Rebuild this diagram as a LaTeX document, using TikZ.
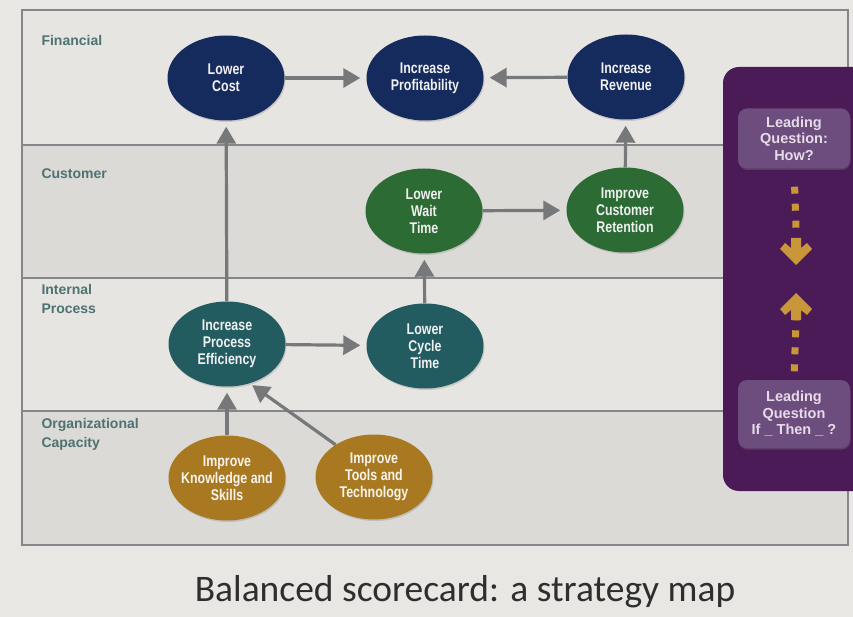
\documentclass[tikz,border=0pt]{standalone}
\usepackage{fontspec}
\setmainfont{Liberation Sans}
\newfontfamily\capfont{Carlito}
\newfontfamily\condfont[FakeStretch=0.8]{Liberation Sans}
\usetikzlibrary{arrows.meta,shadows,shapes.geometric}

\definecolor{pagebg}{HTML}{E8E7E3}
\definecolor{laneA}{HTML}{E6E5E1}
\definecolor{laneB}{HTML}{DBDAD6}
\definecolor{frameline}{HTML}{85868A}
\definecolor{lanetext}{HTML}{4E7272}
\definecolor{navy}{HTML}{152A5D}
\definecolor{leaf}{HTML}{2C6B34}
\definecolor{teal}{HTML}{225C61}
\definecolor{ochre}{HTML}{A97922}
\definecolor{arrowgrey}{HTML}{76787A}
\definecolor{panelbg}{HTML}{4A1B57}
\definecolor{panelbox}{HTML}{6D4C7E}
\definecolor{paneltext}{HTML}{E6DCE8}
\definecolor{dotgold}{HTML}{C9973A}
\definecolor{captext}{HTML}{2E2E2E}

\tikzset{
  goal/.style={ellipse, minimum width=117pt, minimum height=85pt, inner sep=0pt,
    align=center, text=white!94!black,
    font=\condfont\bfseries\fontsize{15.5}{17}\selectfont,
    drop shadow={opacity=0.3, shadow xshift=1pt, shadow yshift=-1.5pt}},
  fin/.style={goal, fill=navy},
  cust/.style={goal, fill=leaf},
  proc/.style={goal, fill=teal},
  org/.style={goal, fill=ochre, text=white!92!ochre},
  flow/.style={draw=arrowgrey, line width=3.2pt,
    -{Triangle[length=17pt, width=19pt]}, shorten >=6pt},
  lanelabel/.style={anchor=base west, align=left, text=lanetext,
    font=\bfseries\fontsize{14}{19}\selectfont},
  question/.style={fill=panelbox, rounded corners=9pt, minimum width=112pt,
    align=center, text=paneltext, inner sep=0pt,
    font=\bfseries\fontsize{14.5}{16.5}\selectfont,
    drop shadow={opacity=0.35, shadow xshift=0.5pt, shadow yshift=-1.5pt}},
  dotline/.style={draw=dotgold, line width=7pt, dash pattern=on 7pt off 10pt},
  chevron/.style={fill=dotgold}
}

\begin{document}
\begin{tikzpicture}[x=1pt, y=-1pt]
  \useasboundingbox (0,0) rectangle (853,617);
  \fill[pagebg] (0,0) rectangle (853,617);

  % perspective lanes
  \fill[laneA] (22,10)  rectangle (848,145);
  \fill[laneB] (22,145) rectangle (848,278);
  \fill[laneA] (22,278) rectangle (848,411);
  \fill[laneB] (22,411) rectangle (848,545);
  \draw[frameline, line width=1.3pt] (22,10) rectangle (848,545);
  \draw[frameline, line width=1.3pt] (22,145) -- (848,145);
  \draw[frameline, line width=1.3pt] (22,278) -- (848,278);
  \draw[frameline, line width=1.3pt] (22,411) -- (848,411);

  % lane titles
  \node[lanelabel] (lfin)  at (38,46)  {Financial};
  \node[lanelabel] (lcust) at (38,179) {Customer};
  \node[lanelabel] (lproc) at (38,313) {Internal\\Process};
  \node[lanelabel] (lorg)  at (38,447) {Organizational\\Capacity};

  % objectives
  \node[fin]  (lc)    at (226,78)  {Lower\\Cost};
  \node[fin]  (prof)  at (425,78)  {Increase\\Profitability};
  \node[fin]  (rev)   at (626,77)  {Increase\\Revenue};
  \node[cust] (wait)  at (424,211) {Lower\\Wait\\Time};
  \node[cust] (ret)   at (625,210) {Improve\\Customer\\Retention};
  \node[proc] (ipe)   at (227,344) {Increase\\Process\\Efficiency};
  \node[proc] (cycle) at (425,346) {Lower\\Cycle\\Time};
  \node[org, inner xsep=-14pt] (know) at (227,478) {Improve\\Knowledge and\\Skills};
  \node[org]  (tools) at (374,477) {Improve\\Tools and\\Technology};

  % cause and effect links
  \draw[flow] (lc) -- (prof);
  \draw[flow] (rev) -- (prof);
  \draw[flow] (ipe) -- (lc);
  \draw[flow] (wait) -- (ret);
  \draw[flow] (ret) -- (rev);
  \draw[flow] (cycle) -- (wait);
  \draw[flow] (ipe) -- (cycle);
  \draw[flow] (know) -- (ipe);
  \draw[flow, shorten >=3pt] (tools.140) -- (ipe.-60);

  % side panel with leading questions
  \fill[panelbg, rounded corners=16pt] (723,67) rectangle (880,491);
  \node[question, minimum height=60pt] (how)    at (794,138.5) {Leading\\Question:\\How?};
  \node[question, minimum height=68pt] (ifthen) at (794,414)   {Leading\\Question\\If \_ Then \_ ?};

  \coordinate (downtip) at (796,265);
  \coordinate (uptip)   at (796,293);
  \draw[dotline, shorten <=18pt] (how.south) -- (796,228);
  \draw[dotline, shorten <=8.5pt] (ifthen.north) -- (796,320);
  \fill[chevron] (downtip) -- (780,249) -- (785,243) -- (791,248) -- (791,238)
    -- (801,238) -- (801,248) -- (807,243) -- (812,249) -- cycle;
  \fill[chevron] (uptip) -- (780,309) -- (785,315) -- (791,310) -- (791,320)
    -- (801,320) -- (801,310) -- (807,315) -- (812,309) -- cycle;

  % caption
  \node[anchor=base, text=captext, font=\capfont\fontsize{37.5}{40}\selectfont]
    (caption) at (465,601) {Balanced scorecard: a strategy map};
\end{tikzpicture}
\end{document}
